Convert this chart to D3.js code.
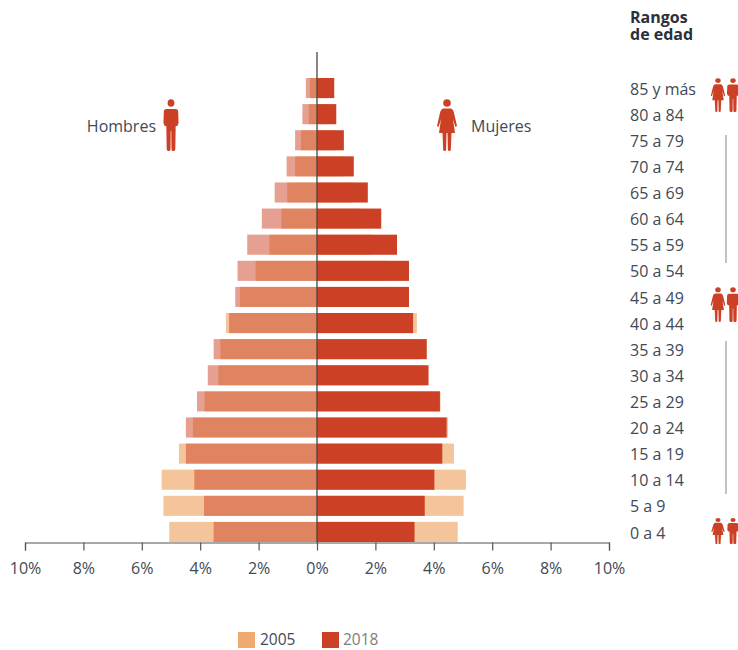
<!DOCTYPE html>
<html>
<head>
<meta charset="utf-8">
<script src="https://cdn.jsdelivr.net/npm/d3@7"></script>
<style>
    html, body { margin: 0; padding: 0; background: #fff; overflow: hidden; }
    text { font-family: "Open Sans", sans-serif; fill: #414a55; }
    .axis text { font-size: 16px; }
    .ages text { font-size: 16px; }
</style>
</head>
<body>
<svg id="chart" width="738" height="650"></svg>
<script>
const ages = ["85 y más", "80 a 84", "75 a 79", "70 a 74", "65 a 69", "60 a 64", "55 a 59", "50 a 54", "45 a 49",
    "40 a 44", "35 a 39", "30 a 34", "25 a 29", "20 a 24", "15 a 19", "10 a 14", "5 a 9", "0 a 4"];

const men2005 = [0.24, 0.28, 0.55, 0.75, 1.02, 1.22, 1.63, 2.10, 2.64, 3.12, 3.31, 3.38, 3.85, 4.25, 4.73, 5.32, 5.26, 5.06];
const men2018 = [0.38, 0.50, 0.75, 1.04, 1.45, 1.89, 2.39, 2.72, 2.80, 3.01, 3.54, 3.74, 4.11, 4.49, 4.49, 4.20, 3.87, 3.54];
const women2005 = [0.30, 0.40, 0.65, 0.90, 1.20, 1.50, 1.90, 2.40, 2.90, 3.42, 3.50, 3.60, 4.23, 4.49, 4.69, 5.10, 5.02, 4.82];
const women2018 = [0.59, 0.66, 0.92, 1.26, 1.74, 2.20, 2.74, 3.15, 3.15, 3.29, 3.76, 3.82, 4.21, 4.44, 4.29, 4.02, 3.69, 3.34];

const xTicks = [-10, -8, -6, -4, -2, 0, 2, 4, 6, 8, 10];

const red = "#cc4125";
const orange = "#efab6f";

const svg = d3.select("#chart");

const x = d3.scaleLinear().domain([-10, 10]).range([25, 609]);
const y = d3.scaleBand().domain(ages).range([75, 545]).paddingInner(0.23).paddingOuter(0.115);

function bars(values, side, color, opacity) {
    svg.append("g").selectAll("rect")
        .data(values)
        .enter()
        .append("rect")
        .attr("x", d => side < 0 ? x(-d) : x(0))
        .attr("y", (d, i) => y(ages[i]))
        .attr("width", d => side < 0 ? x(0) - x(-d) : x(d) - x(0))
        .attr("height", y.bandwidth())
        .attr("fill", color)
        .attr("fill-opacity", opacity);
}

bars(men2005, -1, orange, 0.7);
bars(men2018, -1, red, 0.5);
bars(women2005, 1, orange, 0.7);
bars(women2018, 1, red, 1);

// axes
const xAxis = d3.axisBottom(x)
    .tickValues(xTicks)
    .tickSize(8)
    .tickPadding(12)
    .tickFormat(d => Math.abs(d) + "%");

const gx = svg.append("g").attr("class", "axis")
    .attr("transform", "translate(0,542.5)")
    .call(xAxis);
gx.selectAll("path, line").attr("stroke", "#555").attr("stroke-width", 1.2);
gx.selectAll("text").attr("fill", "#414a55");

svg.append("line")
    .attr("x1", x(0)).attr("x2", x(0))
    .attr("y1", 52).attr("y2", 543)
    .attr("stroke", "#444").attr("stroke-width", 1.3);

const ageAxis = d3.axisRight(y).tickSize(0).tickPadding(0);
const gy = svg.append("g").attr("class", "ages")
    .attr("transform", "translate(630,1.5)")
    .call(ageAxis);
gy.select(".domain").remove();
gy.selectAll("text").attr("fill", "#414a55");

// headers
const header = svg.append("text")
    .attr("font-size", 16).attr("font-weight", 700).style("fill", "#2b3038");
header.append("tspan").attr("x", 630).attr("y", 23).text("Rangos");
header.append("tspan").attr("x", 630).attr("y", 40).text("de edad");

svg.append("text").attr("x", 156).attr("y", 132).attr("text-anchor", "end")
    .attr("font-size", 16).text("Hombres");
svg.append("text").attr("x", 471).attr("y", 132)
    .attr("font-size", 16).text("Mujeres");

// pictograms, drawn in a box 52 units tall
const manPath = "M-5,10 L5,10 Q8,10 8,13 L8.4,24 L7,27 L5.2,27 L4.8,50 Q4.7,52 3,52 L1.8,52 Q.6,52 .5,50 L.3,32 L-.3,32 L-.5,50 Q-.6,52 -1.8,52 L-3,52 Q-4.7,52 -4.8,50 L-5.2,27 L-7,27 L-8.4,24 L-8,13 Q-8,10 -5,10 Z";
const womanPath = "M-4,9.5 L4,9.5 Q6,10 6.8,13 L10,27 L8.4,28 L6,20 L8,34 L4.5,34 L3.8,51 Q3.6,52 2.4,52 Q1,52 .9,51 L.5,34 L-.5,34 L-.9,51 Q-1,52 -2.4,52 Q-3.6,52 -3.8,51 L-4.5,34 L-8,34 L-6,20 L-8.4,28 L-10,27 L-6.8,13 Q-6,10 -4,9.5 Z";

function person(path, cx, top, h, stretch) {
    const k = h / 52;
    const g = svg.append("g")
        .attr("transform", `translate(${cx},${top}) scale(${k * stretch},${k})`)
        .attr("fill", red);
    g.append("circle").attr("cx", 0).attr("cy", 4).attr("r", 3.8);
    g.append("path").attr("d", path);
}

person(manPath, 171, 99, 52, 0.9);
person(womanPath, 447, 99, 52, 1);

const iconRows = [[78, 34, 1.1], [287, 35, 1.1], [518, 26, 1.35]];
iconRows.forEach(r => {
    person(womanPath, 718, r[0], r[1], r[2]);
    person(manPath, 733, r[0], r[1], r[2]);
});

// brackets between icons
[[135, 263], [341, 494]].forEach(s => {
    svg.append("line")
        .attr("x1", 726).attr("x2", 726)
        .attr("y1", s[0]).attr("y2", s[1])
        .attr("stroke", "#999").attr("stroke-width", 1.2);
});

// legend
svg.append("rect").attr("x", 238).attr("y", 632).attr("width", 17).attr("height", 16).attr("fill", orange);
svg.append("text").attr("x", 260).attr("y", 645.3).attr("font-size", 15.5).text("2005");
svg.append("rect").attr("x", 322).attr("y", 632).attr("width", 17).attr("height", 16).attr("fill", red);
svg.append("text").attr("x", 343).attr("y", 645.3).attr("font-size", 15.5).style("fill", "#7d7d7d").text("2018");
</script>
</body>
</html>
